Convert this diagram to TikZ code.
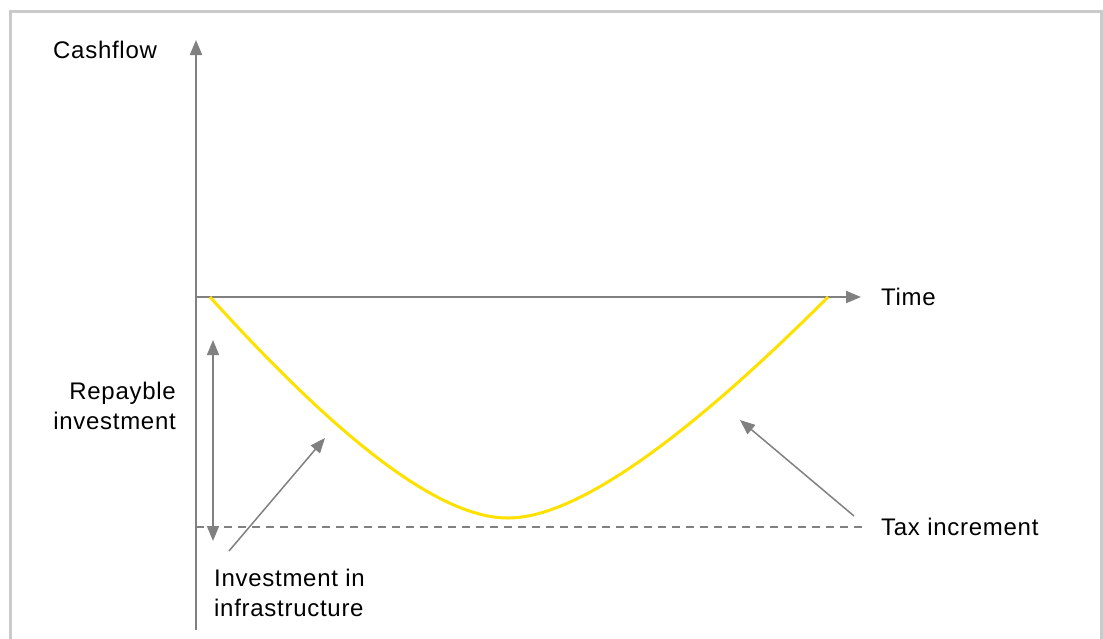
\documentclass[tikz,border=0pt]{standalone}
\usepackage{fontspec}
\setmainfont{Liberation Sans}[LetterSpace=3]
\usetikzlibrary{arrows.meta}
\definecolor{axisgrey}{HTML}{808080}
\definecolor{framegrey}{HTML}{CACACA}
\definecolor{curveyellow}{HTML}{FFE100}
\begin{document}
\begin{tikzpicture}[x=1pt,y=-1pt,
  axis/.style={draw=axisgrey, line width=2pt},
  headtip/.style={-{Triangle[length=15pt,width=12pt]}},
  pointer/.style={draw=axisgrey, line width=1.5pt, -{Triangle[length=15pt,width=12pt]}},
  lbl/.style={font=\fontsize{24}{29.5}\selectfont, inner sep=0pt, text=black},
]
\useasboundingbox (0,0) rectangle (1103,638);
% frame
\draw[framegrey, line width=3pt] (10,640) -- (10,11) -- (1101.5,11) -- (1101.5,640);
% axes
\coordinate (ybot) at (196,630);
\coordinate (ytop) at (196,40);
\coordinate (O) at (196,297);
\coordinate (xend) at (861,297);
\draw[axis, headtip] (ybot) -- (ytop);
\draw[axis, headtip] (O) -- (xend);
% dashed baseline
\coordinate (d0) at (196,527);
\coordinate (d1) at (862,527);
\draw[axisgrey, line width=2pt, dash pattern=on 8pt off 6pt] (d0) -- (d1);
% curve
\coordinate (c0) at (210,297);
\coordinate (cmin) at (508,518);
\coordinate (c1) at (828,297);
\draw[curveyellow, line width=3pt] (c0) .. controls (343,444) and (441,518) .. (cmin) .. controls (574,518) and (681,444) .. (c1);
% repayable double arrow
\coordinate (ra) at (213,340);
\coordinate (rb) at (213,541);
\draw[axisgrey, line width=1.5pt, {Triangle[length=15pt,width=12pt]}-{Triangle[length=15pt,width=12pt]}] (ra) -- (rb);
% labels
\node[lbl, anchor=base west] (cash) at (53,58) {Cashflow};
\node[lbl, anchor=base west] (time) at (881,305) {Time};
\node[lbl, anchor=base west] (tax) at (881,535) {Tax increment};
\node[lbl, anchor=north east, align=right] (rep) at (176,382) {Repayble\\investment};
\node[lbl, anchor=north west, align=left] (inv) at (214,569) {Investment in\\infrastructure};
% pointers
\coordinate (p1s) at (229,551);
\coordinate (p1e) at (325,438);
\coordinate (p2s) at (854,516);
\coordinate (p2e) at (740,420);
\draw[pointer] (p1s) -- (p1e);
\draw[pointer] (p2s) -- (p2e);
\end{tikzpicture}
\end{document}
